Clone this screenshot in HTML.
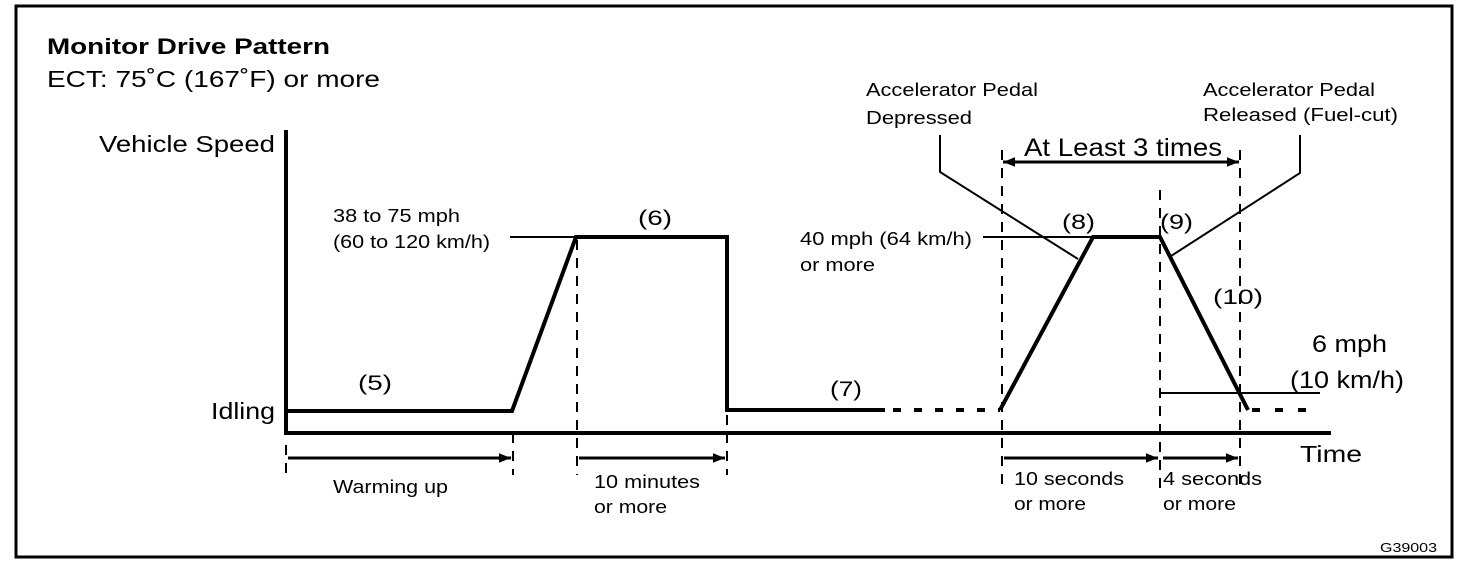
<!DOCTYPE html>
<html><head><style>
html,body{margin:0;padding:0;background:#fff;}
svg{display:block;}
text{font-family:"Liberation Sans",Arial,sans-serif;fill:#000;}
</style></head><body>
<svg width="1472" height="572" viewBox="0 0 1472 572" xmlns="http://www.w3.org/2000/svg">
<defs>
<marker id="ah2" viewBox="0 0 10 10" refX="10" refY="5" markerWidth="14" markerHeight="12" markerUnits="userSpaceOnUse" orient="auto-start-reverse"><path d="M0,1 L10,5 L0,9 z" fill="#000"/></marker>
</defs>
<rect x="16" y="6" width="1436" height="551" fill="none" stroke="#000" stroke-width="3"/>
<text x="47" y="54" font-size="22" font-weight="bold" textLength="283" lengthAdjust="spacingAndGlyphs">Monitor Drive Pattern</text>
<text x="47" y="87" font-size="23" textLength="333" lengthAdjust="spacingAndGlyphs">ECT: 75˚C (167˚F) or more</text>
<text x="99" y="152" font-size="23" textLength="176" lengthAdjust="spacingAndGlyphs">Vehicle Speed</text>
<text x="211" y="419" font-size="23" textLength="64" lengthAdjust="spacingAndGlyphs">Idling</text>
<text x="1300" y="462" font-size="23" textLength="62" lengthAdjust="spacingAndGlyphs">Time</text>
<line x1="286" y1="130" x2="286" y2="435" stroke="#000" stroke-width="4"/>
<line x1="284" y1="433" x2="1331" y2="433" stroke="#000" stroke-width="4"/>
<polyline points="286,411 512,411 576,237 727,237 727,410 885,410" fill="none" stroke="#000" stroke-width="4" stroke-linejoin="miter"/>
<line x1="893" y1="410" x2="1000" y2="410" stroke="#000" stroke-width="4" stroke-dasharray="8,13"/>
<polyline points="1000,410 1093,237 1160,237 1248,410" fill="none" stroke="#000" stroke-width="4"/>
<line x1="1252" y1="410" x2="1318" y2="410" stroke="#000" stroke-width="4" stroke-dasharray="8,15"/>
<line x1="510" y1="237" x2="576" y2="237" stroke="#000" stroke-width="2"/>
<line x1="983" y1="237" x2="1093" y2="237" stroke="#000" stroke-width="2"/>
<line x1="1160" y1="393" x2="1320" y2="393" stroke="#000" stroke-width="2"/>
<polyline points="940,135 940,172 1078,259" fill="none" stroke="#000" stroke-width="2"/>
<polyline points="1300,135 1300,173 1171,256" fill="none" stroke="#000" stroke-width="2"/>
<g stroke="#000" stroke-width="2" stroke-dasharray="10,8">
<line x1="286" y1="445" x2="286" y2="475"/>
<line x1="513" y1="433" x2="513" y2="475"/>
<line x1="577" y1="240" x2="577" y2="475"/>
<line x1="727" y1="415" x2="727" y2="475"/>
<line x1="1002" y1="150" x2="1002" y2="492"/>
<line x1="1160" y1="190" x2="1160" y2="492"/>
<line x1="1240" y1="150" x2="1240" y2="492"/>
</g>
<g stroke="#000" stroke-width="3">
<line x1="288" y1="458" x2="511" y2="458" marker-end="url(#ah2)"/>
<line x1="579" y1="458" x2="725" y2="458" marker-end="url(#ah2)"/>
<line x1="1004" y1="458" x2="1158" y2="458" marker-end="url(#ah2)"/>
<line x1="1163" y1="458" x2="1238" y2="458" marker-end="url(#ah2)"/>
<line x1="1003" y1="162" x2="1239" y2="162" marker-start="url(#ah2)" marker-end="url(#ah2)"/>
</g>
<g font-size="18">
<text x="333" y="222" textLength="127" lengthAdjust="spacingAndGlyphs">38 to 75 mph</text>
<text x="333" y="248" textLength="157" lengthAdjust="spacingAndGlyphs">(60 to 120 km/h)</text>
<text x="800" y="245" textLength="172" lengthAdjust="spacingAndGlyphs">40 mph (64 km/h)</text>
<text x="800" y="271" textLength="75" lengthAdjust="spacingAndGlyphs">or more</text>
<text x="866" y="96" textLength="172" lengthAdjust="spacingAndGlyphs">Accelerator Pedal</text>
<text x="866" y="124" textLength="106" lengthAdjust="spacingAndGlyphs">Depressed</text>
<text x="1203" y="96" textLength="172" lengthAdjust="spacingAndGlyphs">Accelerator Pedal</text>
<text x="1203" y="121" textLength="195" lengthAdjust="spacingAndGlyphs">Released (Fuel-cut)</text>
<text x="333" y="493" textLength="115" lengthAdjust="spacingAndGlyphs">Warming up</text>
<text x="594" y="488" textLength="106" lengthAdjust="spacingAndGlyphs">10 minutes</text>
<text x="594" y="513" textLength="73" lengthAdjust="spacingAndGlyphs">or more</text>
<text x="1014" y="485" textLength="110" lengthAdjust="spacingAndGlyphs">10 seconds</text>
<text x="1014" y="510" textLength="72" lengthAdjust="spacingAndGlyphs">or more</text>
<text x="1163" y="485" textLength="99" lengthAdjust="spacingAndGlyphs">4 seconds</text>
<text x="1163" y="510" textLength="73" lengthAdjust="spacingAndGlyphs">or more</text>
</g>
<g font-size="21">
<text x="638" y="225" textLength="34" lengthAdjust="spacingAndGlyphs">(6)</text>
<text x="358" y="390" textLength="34" lengthAdjust="spacingAndGlyphs">(5)</text>
<text x="830" y="396" textLength="32" lengthAdjust="spacingAndGlyphs">(7)</text>
<text x="1062" y="229" textLength="33" lengthAdjust="spacingAndGlyphs">(8)</text>
<text x="1160" y="229" textLength="33" lengthAdjust="spacingAndGlyphs">(9)</text>
<text x="1213" y="304" textLength="50" lengthAdjust="spacingAndGlyphs">(10)</text>
</g>
<text x="1312" y="352" font-size="24" textLength="75" lengthAdjust="spacingAndGlyphs">6 mph</text>
<text x="1290" y="388" font-size="24" textLength="114" lengthAdjust="spacingAndGlyphs">(10 km/h)</text>
<text x="1024" y="156" font-size="25" textLength="198" lengthAdjust="spacingAndGlyphs">At Least 3 times</text>
<text x="1380" y="552" font-size="13" textLength="57" lengthAdjust="spacingAndGlyphs">G39003</text>
</svg>
</body></html>
